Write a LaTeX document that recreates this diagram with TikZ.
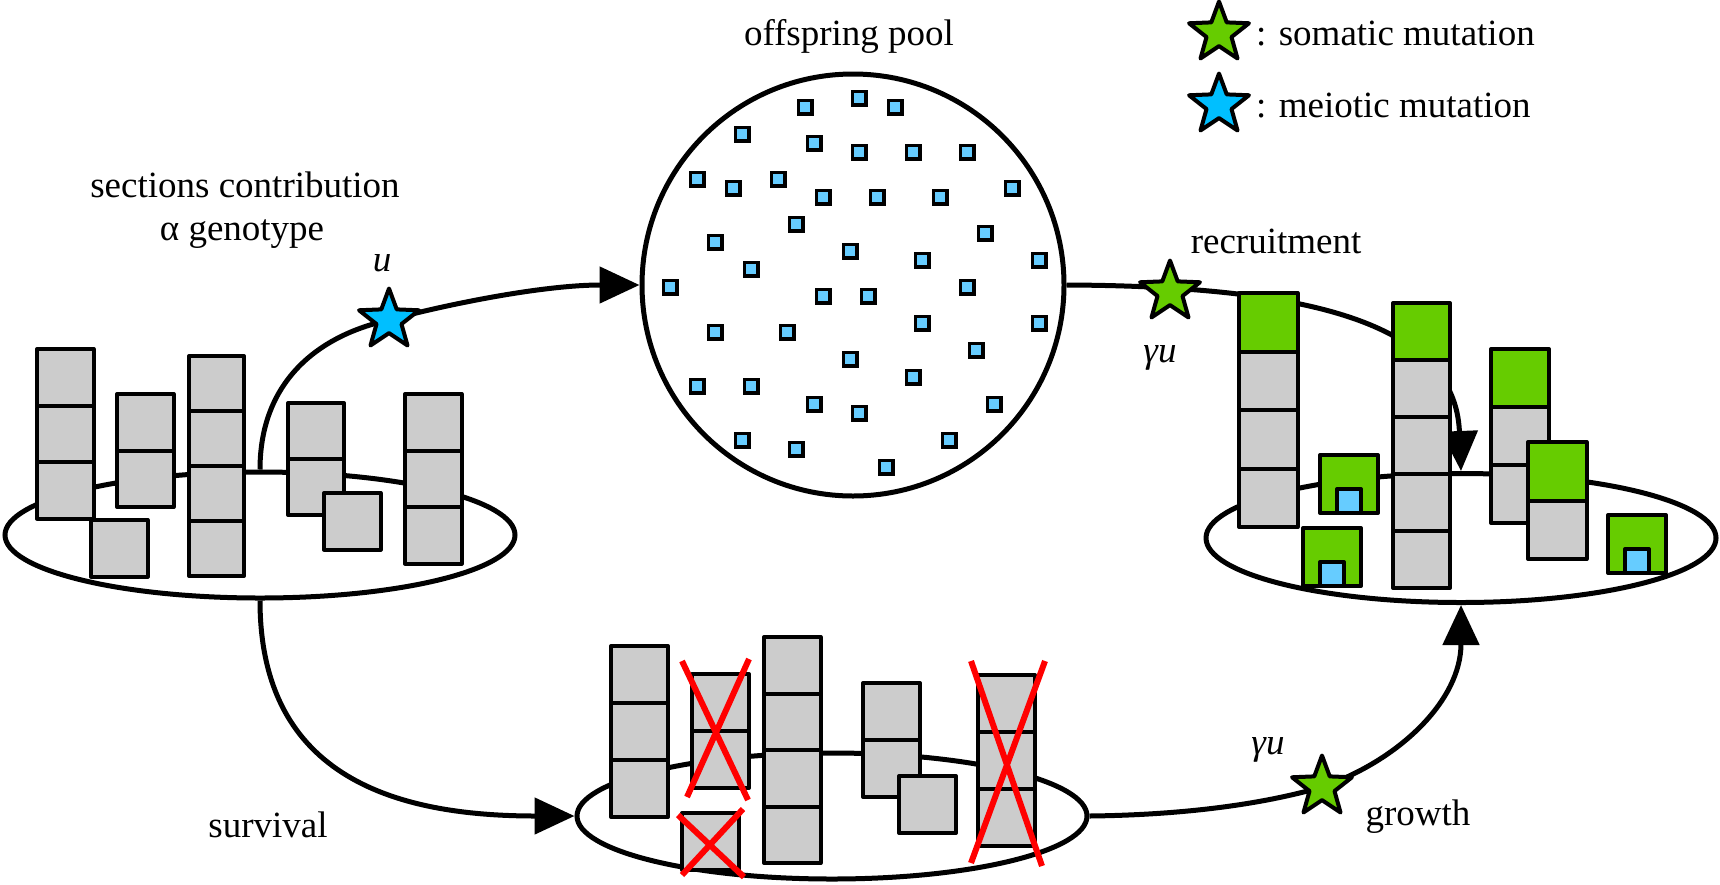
\documentclass[tikz,border=0pt]{standalone}
\usepackage{fontspec}
\setmainfont{Liberation Serif}
\newfontfamily\tms{Liberation Serif}
\usetikzlibrary{arrows.meta,shapes.geometric}
\definecolor{cgray}{HTML}{CCCCCC}
\definecolor{cgreen}{HTML}{66CC00}
\definecolor{cblue}{HTML}{66CCFF}
\definecolor{sblue}{HTML}{00BFFF}
\definecolor{cred}{HTML}{FF0000}
\newcommand\gst[4]{% x, top, n cells, size
  \foreach \k in {1,...,#3}{\draw[cell, fill=cgray] (#1,{#2+(\k-1)*#4}) rectangle ++(#4,#4);}}
\newcommand\grst[4]{% green top + gray below: x, top, n gray, size
  \draw[cell, fill=cgreen] (#1,#2) rectangle ++(#4,#4);
  \gst{#1}{#2+#4}{#3}{#4}}
\newcommand\nbox[2]{% green box with blue notch
  \draw[cell, fill=cgreen] (#1,#2) rectangle ++(58,58);
  \draw[cell, fill=cblue] (#1+17,#2+58) rectangle ++(24,-24);}
\begin{document}
\begin{tikzpicture}[x=1pt,y=-1pt,
  txt/.style={font=\tms\fontsize{37}{44}\selectfont, inner sep=0pt},
  conn/.style={line width=5pt, -{Triangle[length=40pt,width=36pt]}},
  dish/.style={ellipse, draw, line width=5pt, minimum width=510pt, minimum height=126pt, inner sep=0pt},
  pdot/.style={rectangle, draw, fill=cblue, line width=3.5pt, minimum size=13.5pt, inner sep=0pt},
  mstar/.style={star, star points=5, star point ratio=2.4, draw, line width=4pt, minimum size=63pt, inner sep=0pt, line join=round},
  cell/.style={draw, line width=4pt, line join=round},
  cross/.style={cred, line width=6pt},
]
\useasboundingbox (0,0) rectangle (1720,884);
% containers
\node[dish] (lell) at (260,535) {};
\node[dish] (mell) at (832,816) {};
\node[dish, minimum height=129pt] (rell) at (1461,538) {};
\node[circle, draw, line width=5pt, minimum size=422pt, inner sep=0pt] (pool) at (853,285) {};
% offspring
\foreach \p [count=\i] in {(805,107),(859,98),(895,107),(742,134),(814,143),(859,152),(913,152),(967,152),(697,179),(733,188),(778,179),(823,197),(877,197),(940,197),(1012,188),(796,224),(985,233),(715,242),(850,251),(922,260),(1039,260),(751,269),(670,287),(823,296),(868,296),(967,287),(715,332),(787,332),(922,323),(1039,323),(976,350),(850,359),(913,377),(697,386),(751,386),(814,404),(859,413),(994,404),(742,440),(796,449),(949,440),(886,467)}
  \node[pdot] (o\i) at \p {};
% star positions
\coordinate (ust) at (389,320);
\coordinate (gsa) at (1170,292);
\coordinate (gsb) at (1322,787);
% connectors
\draw[conn] (lell.north) .. controls (260,380) and (320,335) .. (ust) .. controls (440,306) and (540,285) .. (pool.west);
\draw[conn] (pool.east) .. controls (1300,286) and (1455,320) .. (rell.north);
\draw[conn] (lell.south) .. controls (260,780) and (400,816) .. (mell.west);
\draw[conn] (mell.east) .. controls (1180,815) and (1260,805) .. (gsb) .. controls (1400,760) and (1461,700) .. (rell.south);
% left group
\gst{37}{349}{3}{56.5}
\gst{117}{394}{2}{56.5}
\gst{91}{520}{1}{56.5}
\gst{189}{356}{4}{55}
\gst{288}{403}{2}{56}
\gst{324}{493}{1}{56.5}
\gst{405}{394}{3}{56.5}
% middle group
\gst{611}{646}{3}{57}
\gst{692}{674}{2}{57}
\gst{682}{813}{1}{57}
\gst{764}{637}{4}{56.5}
\gst{863}{683}{2}{57}
\gst{899}{776}{1}{57}
\gst{978}{675}{3}{57}
\draw[cross] (682,661) -- (748,800) (749,659) -- (687,797);
\draw[cross] (678,815) -- (744,877) (743,809) -- (682,875);
\draw[cross] (971,661) -- (1042,866) (1045,661) -- (971,863);
% right group
\grst{1239}{293}{3}{58.5}
\nbox{1320}{455}
\nbox{1303}{528}
\grst{1393}{303}{4}{57}
\grst{1491}{349}{2}{58}
\grst{1528}{442}{1}{58.5}
\nbox{1608}{515}
% stars
\node[mstar, fill=sblue] (su) at (ust) {};
\node[mstar, fill=cgreen] (sr) at (gsa) {};
\node[mstar, fill=cgreen] (sg) at (gsb) {};
\node[mstar, fill=cgreen] (lg) at (1219,33) {};
\node[mstar, fill=sblue] (lb) at (1219,105) {};
% labels
\node[txt, anchor=base west] (tl1) at (1256,45) {: somatic mutation};
\node[txt, anchor=base west] (tl2) at (1256,117) {: meiotic mutation};
\node[txt, anchor=base] (tpool) at (849,45) {offspring pool};
\node[txt, anchor=base] (tsec) at (245,197) {sections contribution};
\node[txt, anchor=base] (tgen) at (242,240) {α genotype};
\node[txt] (tu) at (382,263) {\textit{u}};
\node[txt, anchor=base] (trec) at (1276,253) {recruitment};
\node[txt] (tgu1) at (1160,358) {\textit{γu}};
\node[txt] (tgu2) at (1268,750) {\textit{γu}};
\node[txt, anchor=base] (tgro) at (1418,825) {growth};
\node[txt, anchor=base] (tsur) at (268,837) {survival};
\end{tikzpicture}
\end{document}
